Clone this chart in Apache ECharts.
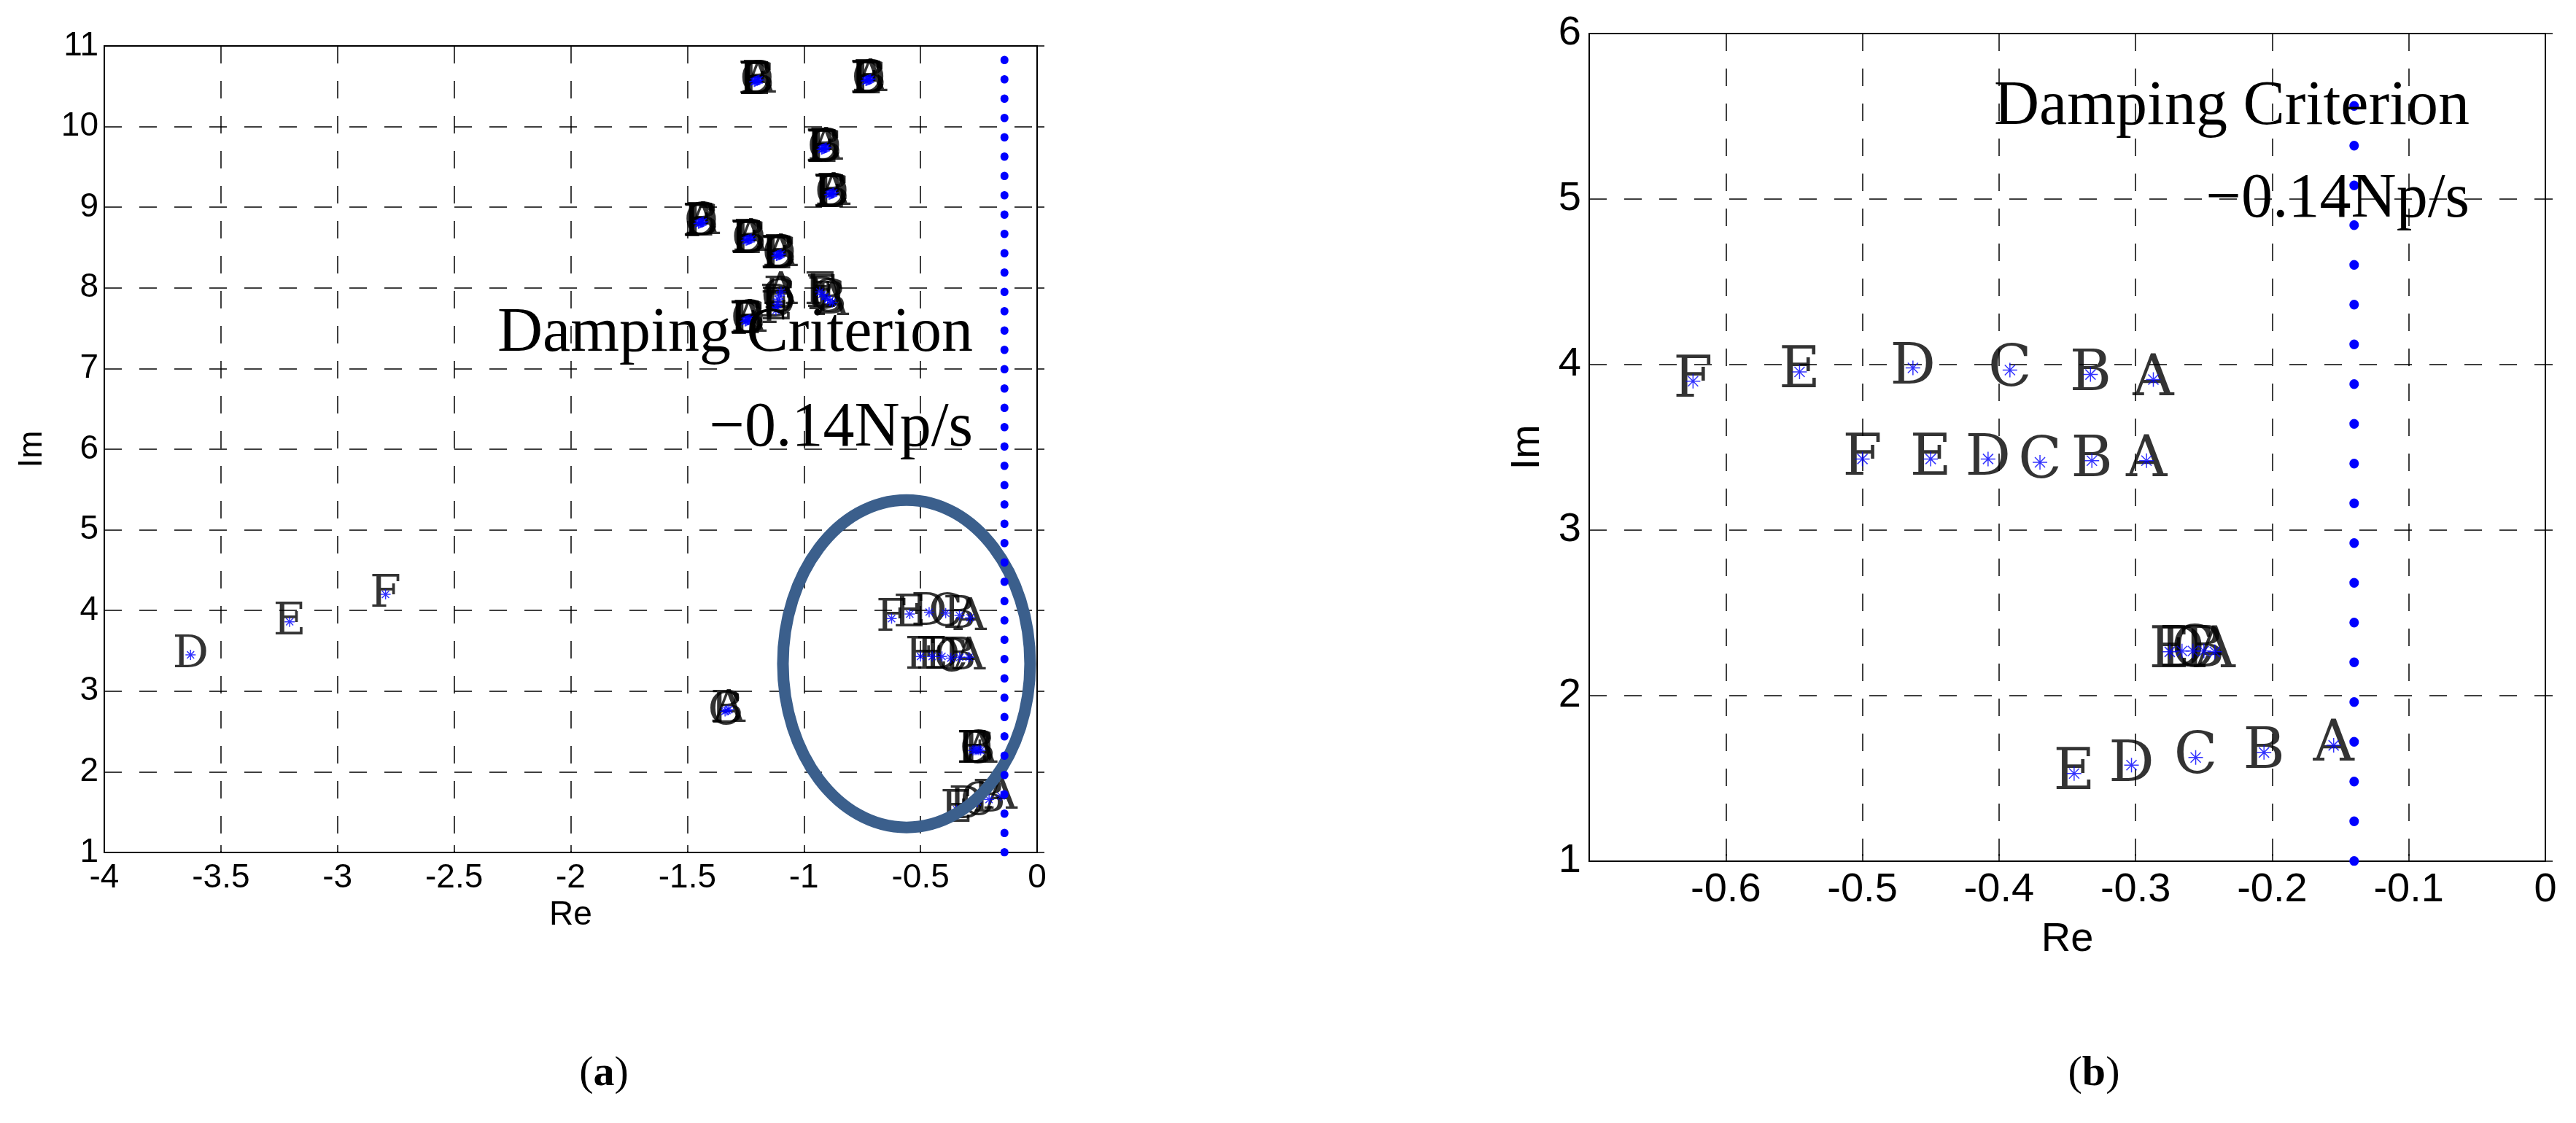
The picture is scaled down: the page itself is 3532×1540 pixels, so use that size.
<!DOCTYPE html>
<html>
<head>
<meta charset="utf-8">
<title>Damping Criterion</title>
<script src="https://cdn.jsdelivr.net/npm/echarts@6/dist/echarts.min.js"></script>
<style>
    html, body { margin: 0; padding: 0; background: #fff; }
    #main { width: 3532px; height: 1540px; }
</style>
</head>
<body>
<div id="main"></div>
<script>
// ---- modes inside the ellipse (shown in (a) and zoomed in (b)) ----
const zoomTags = ['F', 'E', 'D', 'C', 'B', 'A',
                  'F', 'E', 'D', 'C', 'B', 'A',
                  'E', 'D', 'C', 'B', 'A',
                  'E', 'D', 'C', 'B', 'A'];
const zoomRe = [-0.624, -0.546, -0.463, -0.392, -0.333, -0.287,
                -0.500, -0.450, -0.408, -0.370, -0.332, -0.292,
                -0.275, -0.266, -0.258, -0.250, -0.242,
                -0.345, -0.303, -0.256, -0.206, -0.155];
const zoomIm = [3.900, 3.956, 3.980, 3.967, 3.940, 3.910,
                3.430, 3.430, 3.430, 3.410, 3.420, 3.420,
                2.265, 2.270, 2.270, 2.270, 2.265,
                1.530, 1.580, 1.627, 1.657, 1.700];

// ---- other modes, only in (a) ----
const farTags = ['A', 'B', 'C', 'D', 'E', 'F',
                 'A', 'B', 'C', 'D', 'E', 'F',
                 'A', 'B', 'C', 'D', 'E', 'F',
                 'A', 'B', 'C', 'D', 'E', 'F',
                 'A', 'B', 'C', 'D', 'E', 'F',
                 'A', 'B', 'C', 'D', 'E', 'F',
                 'A', 'B', 'C', 'D', 'E', 'F',
                 'A', 'B', 'C', 'D', 'E', 'F',
                 'A', 'B', 'C', 'D', 'E', 'F',
                 'A', 'B', 'C', 'D', 'E', 'F',
                 'A', 'B', 'C', 'D', 'E', 'F'];
const farRe = [-1.192, -1.197, -1.201, -1.205, -1.209, -1.213,
               -0.714, -0.718, -0.722, -0.726, -0.730, -0.734,
               -0.904, -0.908, -0.912, -0.916, -0.920, -0.924,
               -0.872, -0.876, -0.880, -0.884, -0.888, -0.892,
               -1.432, -1.436, -1.440, -1.444, -1.448, -1.452,
               -1.226, -1.231, -1.236, -1.240, -1.244, -1.248,
               -1.098, -1.102, -1.106, -1.110, -1.114, -1.118,
               -1.098, -1.104, -1.110, -1.112, -1.116, -1.120,
               -0.878, -0.888, -0.898, -0.910, -0.922, -0.932,
               -1.232, -1.236, -1.240, -1.244, -1.248, -1.252,
               -1.322, -1.330, -1.338, -3.630, -3.205, -2.794];
const farIm = [10.580, 10.575, 10.570, 10.565, 10.560, 10.555,
               10.590, 10.585, 10.580, 10.575, 10.570, 10.565,
               9.740, 9.735, 9.730, 9.725, 9.720, 9.715,
               9.180, 9.175, 9.170, 9.165, 9.160, 9.155,
               8.820, 8.815, 8.810, 8.805, 8.800, 8.795,
               8.610, 8.605, 8.600, 8.595, 8.590, 8.585,
               8.420, 8.415, 8.410, 8.405, 8.400, 8.395,
               7.950, 7.900, 7.860, 7.800, 7.760, 7.720,
               7.820, 7.840, 7.860, 7.890, 7.920, 7.950,
               7.610, 7.605, 7.600, 7.595, 7.590, 7.585,
               2.770, 2.760, 2.750, 3.450, 3.860, 4.200];

// damping criterion line (-0.14 Np/s) and its extent on each panel
const criterionRe = -0.14;
const criterionImA = [1, 10.83];
const criterionImB = [1, 5.79];

// axis ranges
const xRangeA = [-4, 0, 0.5];
const yRangeA = [1, 11, 1];
const xRangeB = [-0.7, 0, 0.1];
const yRangeB = [1, 6, 1];

// ellipse around the zoomed modes in (a): centre and half axes in data units
const ringCenter = [-0.56, 3.34];
const ringRadius = [0.53, 2.03];

const starPath = 'path://M10 0 L10 20 M0 10 L20 10 M3 3 L17 17 M3 17 L17 3';
const sansFont = 'Liberation Sans, Arial, sans-serif';
const serifFont = 'Liberation Serif, Times New Roman, serif';
const tagFont = 'DejaVu Serif, serif';

function toPoints(tags, re, im) {
    return re.map((x, i) => ({name: tags[i], value: [x, im[i]]}));
}

/**
 * Series for one panel: letter labels, blue asterisks on top, dotted criterion line
 */
function panelSeries(idx, points, fontSize, starSize, lineRange, dotSize, dotGap) {
    return [
        {
            type: 'scatter',
            xAxisIndex: idx, yAxisIndex: idx,
            data: points,
            symbol: 'circle',
            symbolSize: 1,
            itemStyle: {color: 'rgba(0,0,0,0)'},
            silent: true,
            z: 3,
            label: {
                show: true,
                position: 'inside',
                formatter: '{b}',
                color: '#000',
                fontFamily: tagFont,
                fontSize: fontSize,
                align: 'center',
                verticalAlign: 'middle',
                offset: [0, 1]
            }
        },
        {
            type: 'scatter',
            xAxisIndex: idx, yAxisIndex: idx,
            data: points,
            symbol: starPath,
            symbolSize: starSize,
            itemStyle: {color: 'rgba(0,0,0,0)', borderColor: '#0000ff', borderWidth: 1.5},
            silent: true,
            z: 4
        },
        {
            type: 'line',
            xAxisIndex: idx, yAxisIndex: idx,
            data: [[criterionRe, lineRange[0]], [criterionRe, lineRange[1]]],
            symbol: 'none',
            silent: true,
            z: 6,
            lineStyle: {color: '#0000ff', width: dotSize, type: [0.5, dotGap], cap: 'round'}
        }
    ];
}

function xAxisOf(idx, range, fontSize, nameGap) {
    return {
        type: 'value', gridIndex: idx,
        min: range[0], max: range[1], interval: range[2],
        name: 'Re', nameLocation: 'middle', nameGap: nameGap,
        nameTextStyle: {fontFamily: sansFont, fontSize: fontSize, color: '#000'},
        axisLine: {show: false},
        axisTick: {show: true, inside: true, length: 10, lineStyle: {color: '#000', width: 1.5}},
        axisLabel: {
            fontFamily: sansFont, fontSize: fontSize, color: '#000', margin: 12,
            showMinLabel: idx === 0
        },
        splitLine: {show: true, lineStyle: {color: '#000', width: 1.5, type: [24, 24]}}
    };
}

function yAxisOf(idx, range, fontSize, nameGap, margin) {
    return {
        type: 'value', gridIndex: idx,
        min: range[0], max: range[1], interval: range[2],
        name: 'Im', nameLocation: 'middle', nameGap: nameGap, nameRotate: 90,
        nameTextStyle: {fontFamily: sansFont, fontSize: fontSize, color: '#000'},
        axisLine: {show: false},
        axisTick: {show: true, inside: true, length: 10, lineStyle: {color: '#000', width: 1.5}},
        axisLabel: {fontFamily: sansFont, fontSize: fontSize, color: '#000', margin: margin},
        splitLine: {show: true, lineStyle: {color: '#000', width: 1.5, type: [24, 24]}}
    };
}

function note(id, text, right, middle) {
    return {
        type: 'text', id: id,
        x: right, y: middle, z: 8,
        style: {
            text: text, fill: '#000', font: '86px ' + serifFont,
            align: 'right', verticalAlign: 'middle'
        }
    };
}

function caption(id, letter, cx, cy) {
    return {
        type: 'text', id: id, x: cx, y: cy, z: 8,
        style: {
            text: '{n|(}{b|' + letter + '}{n|)}',
            align: 'center', verticalAlign: 'middle',
            rich: {
                n: {fontFamily: serifFont, fontSize: 58, fill: '#000', fontWeight: 'normal'},
                b: {fontFamily: serifFont, fontSize: 58, fill: '#000', fontWeight: 'bold'}
            }
        }
    };
}

const chart = echarts.init(document.getElementById('main'), null, {renderer: 'canvas'});

const pointsA = toPoints(farTags, farRe, farIm).concat(toPoints(zoomTags, zoomRe, zoomIm));
const pointsB = toPoints(zoomTags, zoomRe, zoomIm);

chart.setOption({
    backgroundColor: '#fff',
    animation: false,
    grid: [
        {left: 143, top: 63, width: 1279, height: 1106, show: true, borderColor: '#000', borderWidth: 2, backgroundColor: '#fff'},
        {left: 2179, top: 46, width: 1311, height: 1135, show: true, borderColor: '#000', borderWidth: 2, backgroundColor: '#fff'}
    ],
    xAxis: [xAxisOf(0, xRangeA, 46, 62), xAxisOf(1, xRangeB, 56, 80)],
    yAxis: [yAxisOf(0, yRangeA, 46, 76, 8), yAxisOf(1, yRangeB, 56, 56, 11)],
    series: panelSeries(0, pointsA, 62, 14, criterionImA, 11, 26)
        .concat(panelSeries(1, pointsB, 78, 20, criterionImB, 13, 54))
});

// ellipse placed through the axis scales of panel (a)
const c = chart.convertToPixel({gridIndex: 0}, ringCenter);
const e = chart.convertToPixel({gridIndex: 0}, [ringCenter[0] + ringRadius[0], ringCenter[1] + ringRadius[1]]);

chart.setOption({
    graphic: [
        {
            type: 'ellipse', id: 'ring', z: 5,
            shape: {cx: c[0], cy: c[1], rx: Math.abs(e[0] - c[0]), ry: Math.abs(c[1] - e[1])},
            style: {fill: 'none', stroke: '#3b5f8c', lineWidth: 16}
        },
        note('dampA', 'Damping Criterion', 1334, 458),
        note('valA', '\u22120.14Np/s', 1334, 588),
        note('dampB', 'Damping Criterion', 3386, 147),
        note('valB', '\u22120.14Np/s', 3386, 274),
        caption('capA', 'a', 828, 1473),
        caption('capB', 'b', 2871, 1473)
    ]
});
</script>
</body>
</html>
